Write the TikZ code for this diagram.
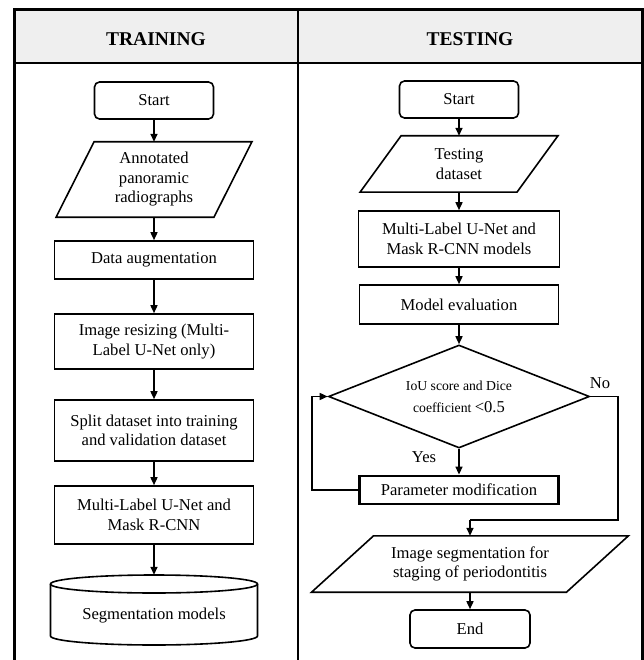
\documentclass[tikz,border=0pt]{standalone}
\usepackage{fontspec}
\setmainfont{Liberation Serif}
\usetikzlibrary{arrows.meta,shapes.geometric,calc}
\definecolor{hdr}{RGB}{239,239,239}
\begin{document}
\begin{tikzpicture}[x=1pt,y=-1pt,
  txt/.style={font=\fontsize{16.6}{19.5}\selectfont, align=center, inner sep=0pt},
  box/.style={txt, draw, line width=1.6pt, rectangle},
  rbox/.style={box, rounded corners=5pt},
  para/.style={txt, draw=none},
  dia/.style={draw, line width=1.6pt, shape=diamond, aspect=2.5, inner sep=0pt, align=center, font=\fontsize{13.7}{22}\selectfont},
  shp/.style={line width=1.6pt},
  arr/.style={-{Triangle[length=8pt,width=7pt]}, line width=1.5pt},
  lin/.style={line width=1.5pt},
  head/.style={font=\fontsize{19.5}{22}\selectfont\bfseries, inner sep=0pt}
]
\useasboundingbox (0,0) rectangle (643,660);
% frame
\fill[hdr] (14,10) rectangle (642,63);
\draw[line width=3pt] (14,675) -- (14,10) -- (642,10) -- (642,675);
\draw[line width=2.5pt] (14,63) -- (642,63);
\draw[line width=2pt] (298,10) -- (298,675);
\node[head] (hTrain) at (156,39) {TRAINING};
\node[head] (hTest) at (470,39) {TESTING};

% training column
\node[rbox, minimum width=119pt, minimum height=37pt] (sL) at (154,100.5) {Start};
\node[para, minimum width=157.5pt, minimum height=75pt] (ann) at (154,179.5) {Annotated\\panoramic\\radiographs};
\draw[shp] ([xshift=19pt]ann.north west) -- ([xshift=19pt]ann.north east) -- ([xshift=-19pt]ann.south east) -- ([xshift=-19pt]ann.south west) -- cycle;
\node[box, minimum width=199pt, minimum height=38pt] (aug) at (154,260) {Data augmentation};
\node[box, minimum width=199pt, minimum height=55pt] (res) at (154,341.5) {Image resizing (Multi-\\Label U-Net only)};
\node[box, minimum width=199pt, minimum height=61pt] (split) at (154,430.5) {Split dataset into training\\and validation dataset};
\node[box, minimum width=199pt, minimum height=58pt] (mlu) at (154,515) {Multi-Label U-Net and\\Mask R-CNN};
\node[para, minimum width=207pt, minimum height=82pt] (seg) at (154,616) {Segmentation models};
\draw[shp] (154,584) ellipse [x radius=103.5, y radius=9];
\draw[shp] (50.5,584) -- (50.5,636) arc[start angle=180, end angle=0, x radius=103.5, y radius=9] -- (257.5,584);

\draw[arr] (sL) -- (ann);
\draw[arr] (ann) -- (aug);
\draw[arr] (aug) -- (res);
\draw[arr] (res) -- (split);
\draw[arr] (split) -- (mlu);
\draw[arr] (mlu) -- (seg);

% testing column
\node[rbox, minimum width=119pt, minimum height=37pt] (sR) at (459,99.5) {Start};
\node[para, minimum width=156.5pt, minimum height=56pt] (test) at (459,164) {Testing\\dataset};
\draw[shp] ([xshift=20.5pt]test.north west) -- ([xshift=20.5pt]test.north east) -- ([xshift=-20.5pt]test.south east) -- ([xshift=-20.5pt]test.south west) -- cycle;
\node[box, minimum width=201pt, minimum height=56pt] (mlm) at (459,239) {Multi-Label U-Net and\\Mask R-CNN models};
\node[box, minimum width=199pt, minimum height=39pt] (eval) at (459,304.5) {Model evaluation};
\node[dia, minimum width=261pt, minimum height=103pt] (dec) at (459,396.5) {IoU score and Dice\\coefficient {\fontsize{16.6}{19.5}\selectfont<0.5}};
\node[box, line width=2.8pt, minimum width=199pt, minimum height=28pt] (par) at (459,490) {Parameter modification};
\node[para, minimum width=254.5pt, minimum height=56pt] (img) at (470,564) {Image segmentation for\\staging of periodontitis};
\draw[shp] ([xshift=31pt]img.north west) -- ([xshift=31pt]img.north east) -- ([xshift=-31pt]img.south east) -- ([xshift=-31pt]img.south west) -- cycle;
\node[rbox, minimum width=120pt, minimum height=38pt] (end) at (470,629) {End};

\coordinate (lb) at (312,490);
\coordinate (lt) at (312,396.5);
\coordinate (nr) at (618,396.5);
\coordinate (nb) at (618,520);
\coordinate (nl) at (470,520);

\draw[arr] (sR) -- (test);
\draw[arr] (test) -- (mlm);
\draw[arr] (mlm) -- (eval);
\draw[arr] (eval) -- (dec);
\draw[arr] (dec) -- (par);
\draw[arr] (par.west) -- (lb) -- (lt) -- (dec.west);
\draw[lin] (dec.east) -- (nr) -- (nb) -- (nl);
\draw[arr] (nl) -- (img.north);
\draw[arr] (img) -- (end);

\node[txt] (yes) at (424,457) {Yes};
\node[txt] (no) at (600,383) {No};
\end{tikzpicture}
\end{document}
